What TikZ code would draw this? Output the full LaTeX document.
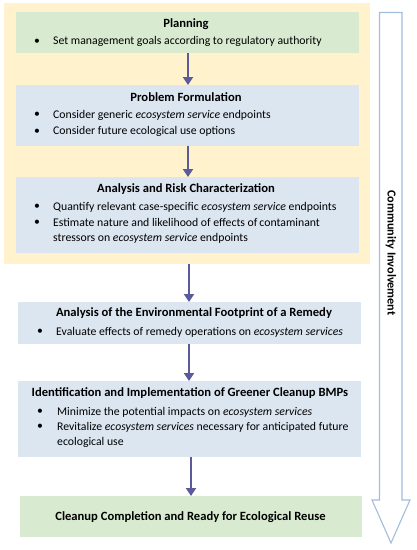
\documentclass[tikz,border=0pt]{standalone}
\usepackage{fontspec}
\setmainfont{Carlito}
\usetikzlibrary{arrows.meta}
\definecolor{boxgreen}{HTML}{D8EBD0}
\definecolor{boxblue}{HTML}{DCE6F1}
\definecolor{boxyellow}{HTML}{FFF2CC}
\definecolor{arrowcol}{HTML}{5B5B9B}
\definecolor{commcol}{HTML}{A3BDDC}
\tikzset{
  box/.style={draw=none, inner sep=0pt, outer sep=0pt, anchor=north west},
  head/.style={font=\fontsize{12.6}{15}\selectfont\bfseries, inner sep=0pt, anchor=center},
  txt/.style={font=\fontsize{11.75}{14}\selectfont, inner sep=0pt, anchor=west},
  bul/.style={font=\fontsize{11.75}{14}\selectfont, inner sep=0pt, anchor=center},
  flow/.style={draw=arrowcol, line width=2.2pt, -{Triangle[length=8pt,width=10pt]}},
}
\begin{document}
\begin{tikzpicture}[x=1pt,y=-1pt]
\useasboundingbox (0,0) rectangle (417,550);
% yellow phase background
\node[box, fill=boxyellow, minimum width=366pt, minimum height=261pt] (phase) at (4,3) {};
% boxes
\node[box, fill=boxgreen, minimum width=343pt, minimum height=41pt] (plan) at (16,12) {};
\node[box, fill=boxblue, minimum width=343pt, minimum height=61pt] (prob) at (16,85) {};
\node[box, fill=boxblue, minimum width=343pt, minimum height=76pt] (anal) at (16,177) {};
\node[box, fill=boxblue, minimum width=343pt, minimum height=42pt] (foot) at (18,302) {};
\node[box, fill=boxblue, minimum width=343pt, minimum height=76pt] (ident) at (18,381) {};
\node[box, fill=boxgreen, minimum width=342pt, minimum height=41pt] (clean) at (20,496) {};
% Planning
\node[head] (planh) at (186,24) {Planning};
\node[bul] (planb1) at (37,41.5) {•};
\node[txt] (plant1) at (53,41.5) {Set management goals according to regulatory authority};
% Problem formulation
\node[head] (probh) at (186,97) {Problem Formulation};
\node[bul] (probb1) at (37,115) {•};
\node[txt] (probt1) at (53,115) {Consider generic \textit{ecosystem service} endpoints};
\node[bul] (probb2) at (37,131.5) {•};
\node[txt] (probt2) at (53,131.5) {Consider future ecological use options};
% Analysis and risk
\node[head] (analh) at (186,189) {Analysis and Risk Characterization};
\node[bul] (analb1) at (37,207) {•};
\node[txt] (analt1) at (53,207) {Quantify relevant case-specific \textit{ecosystem service} endpoints};
\node[bul] (analb2) at (37,222.5) {•};
\node[txt] (analt2) at (53,222.5) {Estimate nature and likelihood of effects of\,contaminant};
\node[txt] (analt3) at (53,238) {stressors on \textit{ecosystem service} endpoints};
% Footprint
\node[head] (footh) at (194,313.5) {Analysis of the Environmental Footprint of a Remedy};
\node[bul] (footb1) at (40,332) {•};
\node[txt] (foott1) at (56,332) {Evaluate effects of remedy operations on \textit{ecosystem services}};
% Identification
\node[head] (identh) at (190,393.5) {Identification and Implementation of Greener Cleanup BMPs};
\node[bul] (identb1) at (40,412) {•};
\node[txt] (identt1) at (57,412) {Minimize the potential impacts on \textit{ecosystem services}};
\node[bul] (identb2) at (40,427) {•};
\node[txt] (identt2) at (57,427) {Revitalize \textit{ecosystem services} necessary for anticipated future};
\node[txt] (identt3) at (57,442) {ecological use};
% Cleanup
\node[head] (cleanh) at (190.5,517.5) {Cleanup Completion and Ready for Ecological Reuse};
% flow arrows
\draw[flow] (plan.south -| 188,0) -- (prob.north -| 188,0);
\draw[flow] (prob.south -| 188,0) -- (anal.north -| 188,0);
\draw[flow] (phase.south -| 189,0) -- (foot.north -| 189,0);
\draw[flow] (foot.south -| 189,0) -- (ident.north -| 189,0);
\draw[flow] (ident.south -| 191,0) -- (clean.north -| 191,0);
% community involvement arrow
\draw[draw=commcol, line width=1.1pt, fill=white, line join=miter]
  (379.5,12.5) -- (402,12.5) -- (402,500) -- (410,500) -- (391,543) -- (372,500) -- (379.5,500) -- cycle;
\node[font=\fontsize{12.2}{14}\selectfont\bfseries, rotate=-90, inner sep=0pt] (comm) at (391,253) {Community Involvement};
\end{tikzpicture}
\end{document}
